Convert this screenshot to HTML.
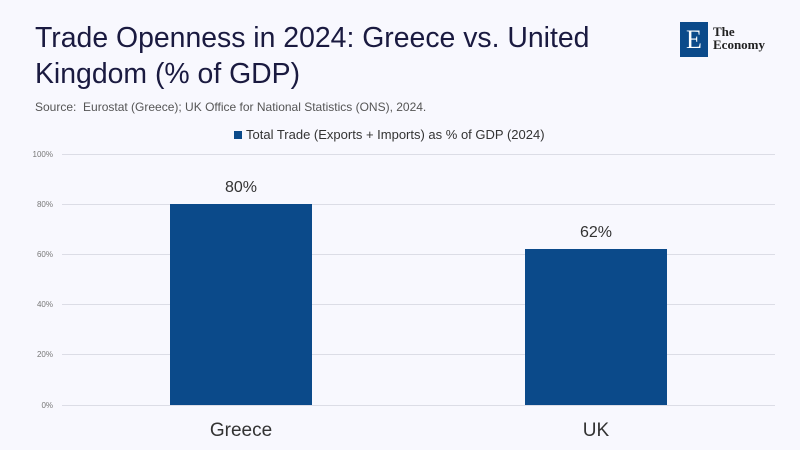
<!DOCTYPE html>
<html><head><style>
body{margin:0;width:800px;height:450px;background:#f8f8fe;font-family:"Liberation Sans",sans-serif;position:relative;overflow:hidden}
.t{position:absolute;left:35px;top:20px;font-size:28.4px;line-height:36px;color:#1a1a40}
.s{position:absolute;left:35px;top:100px;font-size:12px;color:#555}
</style></head><body>
<div class="t">Trade Openness in 2024: Greece vs. United<br>Kingdom (% of GDP)</div>
<div class="s">Source:&nbsp; Eurostat (Greece); UK Office for National Statistics (ONS), 2024.</div>
<div style="position:absolute;left:680px;top:22px;width:28px;height:35px;background:#0b4a8a;color:#fff;font-family:'Liberation Serif',serif;font-size:26px;text-align:center;line-height:35px">E</div>
<div style="position:absolute;left:713px;top:25px;font-family:'Liberation Serif',serif;font-size:13px;line-height:13px;color:#222;font-weight:bold">The<br>Economy</div>
<svg width="800" height="450" style="position:absolute;left:0;top:0">
<rect x="234" y="131" width="8" height="8" fill="#0b4a8a"/>
<text x="246" y="139" font-size="13" fill="#333" font-family="Liberation Sans">Total Trade (Exports + Imports) as % of GDP (2024)</text>
<g stroke="#dcdde6" stroke-width="1">
<line x1="62" x2="775" y1="154.5" y2="154.5"/><line x1="62" x2="775" y1="204.5" y2="204.5"/><line x1="62" x2="775" y1="254.5" y2="254.5"/><line x1="62" x2="775" y1="304.5" y2="304.5"/><line x1="62" x2="775" y1="354.5" y2="354.5"/><line x1="62" x2="775" y1="405.5" y2="405.5"/>
</g>
<g font-size="8" fill="#777" text-anchor="end" font-family="Liberation Sans">
<text x="53" y="157">100%</text><text x="53" y="207">80%</text><text x="53" y="257">60%</text><text x="53" y="307">40%</text><text x="53" y="357">20%</text><text x="53" y="408">0%</text>
</g>
<rect x="170" y="204" width="142" height="201" fill="#0b4a8a"/>
<rect x="525" y="249" width="142" height="156" fill="#0b4a8a"/>
<g font-size="16" fill="#333" text-anchor="middle" font-family="Liberation Sans">
<text x="241" y="192">80%</text><text x="596" y="237">62%</text>
</g>
<g font-size="19" fill="#333" text-anchor="middle" font-family="Liberation Sans">
<text x="241" y="436">Greece</text><text x="596" y="436">UK</text>
</g>
</svg>
</body></html>
